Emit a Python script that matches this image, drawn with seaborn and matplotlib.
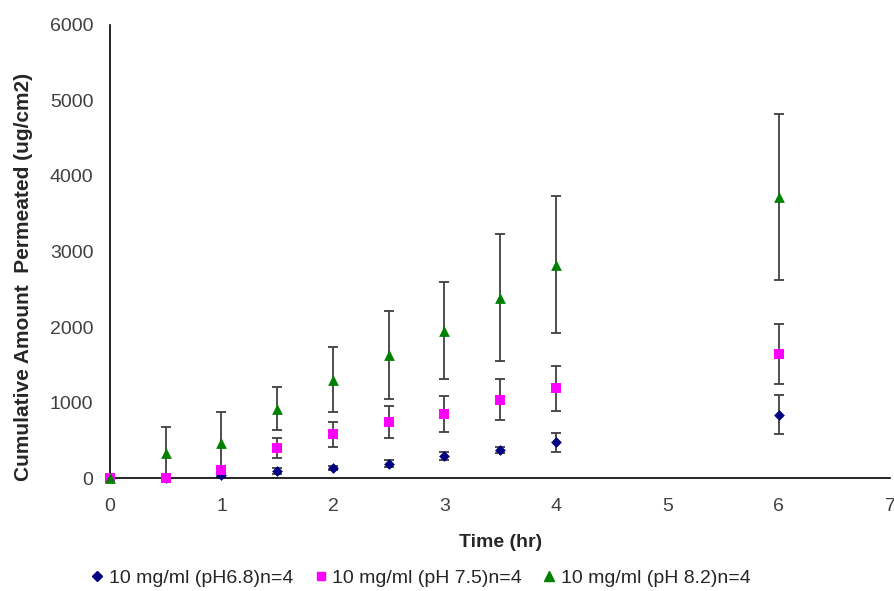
import numpy as np
import pandas as pd
import matplotlib
matplotlib.use('Agg')
import matplotlib.pyplot as plt
import seaborn as sns

# data
time = [0, 0.5, 1, 1.5, 2, 2.5, 3, 3.5, 4, 6]
ph68 = [0, 5, 35, 88, 136, 193, 295, 371, 472, 838]
ph68_err = [0, 0, 15, 40, 30, 50, 50, 40, 130, 260]
ph75 = [0, 5, 110, 397, 578, 746, 848, 1037, 1187, 1642]
ph75_err = [0, 0, 30, 135, 165, 215, 235, 270, 300, 400]
ph82 = [0, 339, 463, 918, 1302, 1633, 1950, 2385, 2825, 3725]
ph82_err = [0, 336, 411, 285, 430, 580, 640, 840, 905, 1100]

labels = ['10 mg/ml (pH6.8)n=4', '10 mg/ml (pH 7.5)n=4', '10 mg/ml (pH 8.2)n=4']
colors = ['#000080', '#FF00FF', '#008000']
markers = ['D', 's', '^']
sizes = [30, 55, 60]

df = pd.concat([
    pd.DataFrame({'Time': time, 'Amount': v, 'err': e, 'Series': lab})
    for v, e, lab in zip([ph68, ph75, ph82], [ph68_err, ph75_err, ph82_err], labels)
])

sns.set_style('white')
plt.rcParams['font.family'] = ['Liberation Sans', 'DejaVu Sans']

fig = plt.figure(figsize=(8.94, 5.91), dpi=100)
ax = fig.add_axes([0.123, 0.191, 0.873, 0.767])

# error bars first, markers drawn on top
for lab in labels:
    sub = df[df['Series'] == lab]
    ax.errorbar(sub['Time'], sub['Amount'], yerr=sub['err'], fmt='none',
                ecolor='#404040', elinewidth=1.3, capsize=3.5, capthick=1.3, zorder=2)

for lab, c, m, s in zip(labels, colors, markers, sizes):
    sub = df[df['Series'] == lab]
    sns.scatterplot(data=sub, x='Time', y='Amount', color=c, marker=m, s=s,
                    edgecolor=c, linewidth=0, ax=ax, zorder=3, label=lab,
                    clip_on=False, legend=False)

ax.set_xlim(0, 7)
ax.set_ylim(0, 6000)
ax.set_xticks(range(0, 8))
ax.set_yticks(range(0, 7000, 1000))
for side in ['top', 'right']:
    ax.spines[side].set_visible(False)
for side in ['left', 'bottom']:
    ax.spines[side].set_color('black')
    ax.spines[side].set_linewidth(1.2)
ax.tick_params(axis='both', direction='out', length=5, width=1, color='black',
               labelsize=14, labelcolor='#404040')
ax.tick_params(axis='x', pad=9)
ax.tick_params(axis='y', pad=7)

ax.set_xlabel('Time (hr)', fontsize=14, fontweight='bold', labelpad=14)
ax.set_ylabel('Cumulative Amount  Permeated (ug/cm2)', fontsize=15,
              fontweight='bold')
ax.yaxis.set_label_coords(-0.099, 0.444)

handles = [plt.Line2D([], [], linestyle='none', marker=m, color=c, markersize=ms)
           for c, m, ms in zip(colors, markers, [5, 6, 6.5])]
fig.legend(handles, labels, loc='center', bbox_to_anchor=(0.469, 0.022), ncol=3,
           frameon=False, fontsize=14, handletextpad=0.1, columnspacing=0.9,
           handlelength=1.0)

fig.savefig('out.png', dpi=100)
